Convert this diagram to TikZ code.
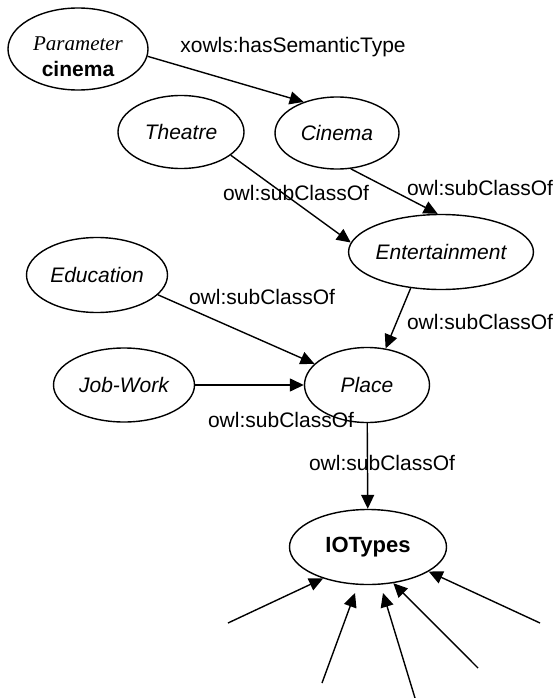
\documentclass[tikz,border=0pt]{standalone}
\usepackage{fontspec}
\setmainfont{Liberation Sans}
\newfontfamily\timesfont{Liberation Serif}
\usetikzlibrary{shapes.geometric,arrows.meta}
\tikzset{
  cls/.style={draw, ellipse, line width=1.4pt, inner sep=0pt, font=\fontsize{21}{24}\selectfont\itshape},
  rel/.style={line width=1.4pt, -{Triangle[length=14pt,width=13pt]}},
  lbl/.style={font=\fontsize{21}{24}\selectfont, inner sep=0pt}
}
\begin{document}
\begin{tikzpicture}[x=1pt,y=-1pt]
\useasboundingbox (0,0) rectangle (555,698);
% classes
\node[cls, minimum width=140pt, minimum height=82pt] (param) at (78,49) {};
\node[lbl, align=center, yshift=-8pt] (paramtxt) at (param.center)
  {{\timesfont\itshape Parameter}\\[2pt]{\bfseries cinema}};
\node[cls, minimum width=126pt, minimum height=73pt] (theatre) at (181,132) {Theatre};
\node[cls, minimum width=124pt, minimum height=72pt] (cinema) at (337,133) {Cinema};
\node[cls, minimum width=177pt, minimum height=75pt] (ent) at (441,252) {Entertainment};
\node[cls, minimum width=141pt, minimum height=75pt] (edu) at (97,275) {Education};
\node[cls, minimum width=141pt, minimum height=74pt] (job) at (124,385) {Job-Work};
\node[cls, minimum width=125pt, minimum height=75pt] (place) at (367,385) {Place};
\node[cls, minimum width=157pt, minimum height=75pt, font=\fontsize{22}{24}\selectfont\bfseries] (io) at (368,547) {IOTypes};
% free ends
\coordinate (s1) at (228,623);
\coordinate (s2) at (322,683);
\coordinate (s3) at (415,698);
\coordinate (s4) at (478,668);
\coordinate (s5) at (540,623);
\coordinate (t2) at (355,593);
\coordinate (t3) at (383,593);
% relations
\draw[rel] (param.-6) -- (cinema.137);
\draw[rel] (theatre.-25) -- (ent.174);
\draw[rel] (cinema.-69) -- (ent.95);
\draw[rel] (ent.-130) -- (place.63);
\draw[rel] (edu.-18) -- (place.158);
\draw[rel] (job) -- (place);
\draw[rel] (place) -- (io);
\draw[rel] (s1) -- (io.-145);
\draw[rel] (s2) -- (t2);
\draw[rel] (s3) -- (t3);
\draw[rel] (s4) -- (io.-55);
\draw[rel] (s5) -- (io.-22);
% labels
\node[lbl] (l1) at (293,47) {xowls:hasSemanticType};
\node[lbl] (l2) at (296,193) {owl:subClassOf};
\node[lbl] (l3) at (480,188) {owl:subClassOf};
\node[lbl] (l4) at (480,322) {owl:subClassOf};
\node[lbl] (l5) at (262,297) {owl:subClassOf};
\node[lbl] (l6) at (281,420) {owl:subClassOf};
\node[lbl] (l7) at (382,463) {owl:subClassOf};
\end{tikzpicture}
\end{document}
